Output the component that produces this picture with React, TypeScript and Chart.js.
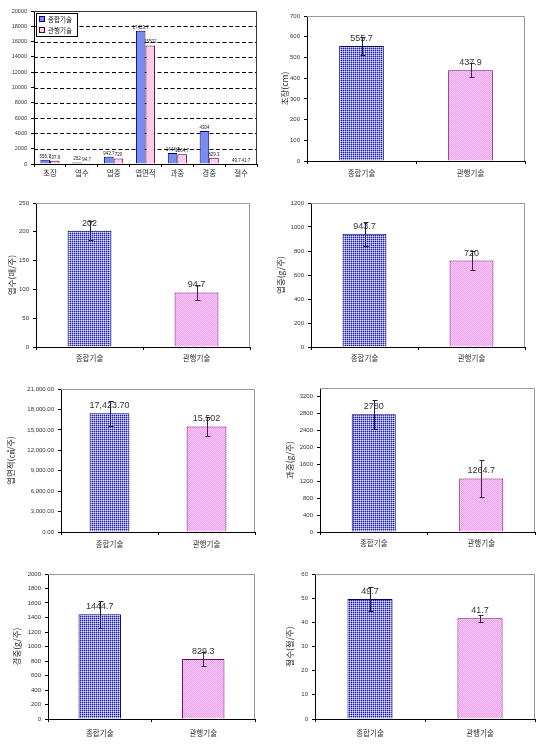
import React, { useEffect, useRef } from 'react';
import { Chart, registerables } from 'chart.js';

Chart.register(...registerables);

// ---------------- data ----------------
const seriesNames = ['종합기술', '관행기술'];
const techCategories = ['종합기술', '관행기술'];

const overviewCategories = ['초장', '엽수', '엽중', '엽면적', '과중', '경중', '절수'];
const overviewIntegrated = [555.7, 202, 943.7, 17423.7, 1444.7, 4304, 49.7];
const overviewConventional = [437.9, 94.7, 720, 15502, 1264.7, 829.3, 41.7];
const overviewAxis = [0, 20000, 2000];

const plantHeight = [555.7, 437.9];
const plantHeightErr = [42, 33];
const plantHeightAxis = [0, 700, 100];

const leafCount = [202, 94.7];
const leafCountErr = [17, 13];
const leafCountAxis = [0, 250, 50];

const leafWeight = [943.7, 720];
const leafWeightErr = [100, 80];
const leafWeightAxis = [0, 1200, 200];

const leafArea = [17423.7, 15502];
const leafAreaErr = [1800, 1400];
const leafAreaAxis = [0, 21000, 3000];

const fruitWeight = [2780, 1264.7];
const fruitWeightErr = [345, 430];
const fruitWeightAxis = [0, 3400, 400];

const stemWeight = [1444.7, 829.3];
const stemWeightErr = [185, 100];
const stemWeightAxis = [0, 2000, 200];

const nodeCount = [49.7, 41.7];
const nodeCountErr = [5, 1.5];
const nodeCountAxis = [0, 60, 10];

// ---------------- styling ----------------
const KR = '"Noto Sans CJK KR", "Noto Sans", sans-serif';
const NUM = '"Liberation Sans", "DejaVu Sans", sans-serif';

function makePattern(kind: 'blue' | 'pink'): CanvasPattern | string {
  const c = document.createElement('canvas');
  c.width = 4;
  c.height = 4;
  const g = c.getContext('2d');
  if (!g) return kind === 'blue' ? '#8686df' : '#ffbcff';
  if (kind === 'blue') {
    g.fillStyle = '#8c8cff';
    g.fillRect(0, 0, 4, 4);
    for (let y = 0; y < 4; y++)
      for (let x = 0; x < 4; x++) {
        if (x % 2 === 0 && y % 2 === 0) {
          g.fillStyle = '#202080';
          g.fillRect(x, y, 1, 1);
        } else if (x % 2 === 1 && y % 2 === 1) {
          g.fillStyle = '#e4e4ff';
          g.fillRect(x, y, 1, 1);
        }
      }
  } else {
    g.fillStyle = '#ffdcff';
    g.fillRect(0, 0, 4, 4);
    g.fillStyle = '#f490f4';
    for (let y = 0; y < 4; y++)
      for (let x = 0; x < 4; x++) if ((x + y) % 2 === 0) g.fillRect(x, y, 1, 1);
  }
  return g.createPattern(c, 'repeat') || '#aaa';
}

type DecoOpts = {
  frameColor: string;
  dashedGrid: boolean;
  legendBox: number[] | null;
  labelColor: string;
  labelSize: number;
  labelGap: number;
  format: (v: number) => string;
};

function makeDeco(o: DecoOpts) {
  return {
    id: 'deco',
    beforeDatasetsDraw(chart: any) {
      const { ctx, chartArea: a } = chart;
      const ys = chart.scales.y;
      if (o.dashedGrid) {
        ctx.save();
        ctx.strokeStyle = '#000';
        ctx.lineWidth = 1;
        ctx.setLineDash([4, 2.5]);
        ys.ticks.forEach((t: any) => {
          if (t.value <= ys.min || t.value >= ys.max) return;
          const py = Math.round(ys.getPixelForValue(t.value)) + 0.5;
          ctx.beginPath();
          ctx.moveTo(a.left, py);
          ctx.lineTo(a.right, py);
          ctx.stroke();
        });
        ctx.restore();
      }
      ctx.save();
      ctx.strokeStyle = o.frameColor;
      ctx.lineWidth = 1;
      ctx.beginPath();
      const t = Math.round(a.top) + 0.5;
      const r = Math.round(a.right) - 0.5;
      ctx.moveTo(a.left, t);
      ctx.lineTo(r, t);
      ctx.lineTo(r, a.bottom);
      ctx.stroke();
      ctx.restore();
    },
    afterDatasetsDraw(chart: any) {
      const { ctx } = chart;
      const ys = chart.scales.y;
      chart.data.datasets.forEach((ds: any, di: number) => {
        const meta = chart.getDatasetMeta(di);
        meta.data.forEach((el: any, i: number) => {
          const v = ds.data[i];
          ctx.save();
          ctx.fillStyle = o.labelColor;
          ctx.font = `${o.labelSize}px ${NUM}`;
          ctx.textAlign = 'center';
          ctx.textBaseline = 'alphabetic';
          ctx.fillText(o.format(v), el.x, el.y - o.labelGap);
          ctx.restore();
          if (ds.errors) {
            const e = ds.errors[i];
            const x = Math.round(el.x) + 0.5;
            const y1 = Math.round(ys.getPixelForValue(v + e)) + 0.5;
            const y2 = Math.round(ys.getPixelForValue(v - e)) + 0.5;
            ctx.save();
            ctx.strokeStyle = ds.errorColors[i];
            ctx.lineWidth = 1;
            ctx.beginPath();
            ctx.moveTo(x, y1);
            ctx.lineTo(x, y2);
            ctx.moveTo(x - 2, y1);
            ctx.lineTo(x + 3, y1);
            ctx.moveTo(x - 2, y2);
            ctx.lineTo(x + 3, y2);
            ctx.stroke();
            ctx.restore();
          }
        });
      });
    },
    afterDraw(chart: any) {
      if (!o.legendBox) return;
      const { ctx } = chart;
      const [lx, ly, lw, lh] = o.legendBox;
      ctx.save();
      ctx.fillStyle = '#fff';
      ctx.fillRect(lx, ly, lw, lh);
      ctx.strokeStyle = '#000';
      ctx.lineWidth = 1;
      ctx.strokeRect(lx + 0.5, ly + 0.5, lw, lh);
      chart.data.datasets.forEach((ds: any, di: number) => {
        const rowY = ly + 6 + di * 11;
        ctx.fillStyle = ds.backgroundColor;
        ctx.fillRect(lx + 3, rowY - 3, 6, 6);
        ctx.strokeStyle = ds.borderColor;
        ctx.strokeRect(lx + 3.5, rowY - 2.5, 5, 5);
        ctx.fillStyle = '#222';
        ctx.font = `6.5px ${KR}`;
        ctx.textBaseline = 'middle';
        ctx.textAlign = 'left';
        ctx.fillText(ds.label, lx + 12, rowY + 0.5);
      });
      ctx.restore();
    },
  };
}

type PanelCfg = {
  ox: number;
  oy: number;
  w: number;
  h: number;
  L: number;
  T: number;
  R: number;
  B: number;
  labelY: number;
  titleX?: number;
  title?: string;
  axis: number[];
  tickFmt?: (v: number) => string;
  tickSize: number;
  xFont: number;
  overview?: boolean;
  values?: number[];
  errors?: number[];
  labelFmt?: (v: number) => string;
};

function buildConfig(p: PanelCfg): any {
  const padTop = p.T - p.oy;
  const padRight = p.ox + p.w - p.R;
  const yW = p.L - p.ox;
  const xH = p.oy + p.h - p.B;
  const tickLen = 3;
  const xLine = p.xFont * 1.2;
  const xPad = Math.max(0, p.labelY - p.B - tickLen - xLine / 2);
  const [min, max, step] = p.axis;
  const titleFont = 8.5;
  const tickFmt = p.tickFmt || ((v: number) => String(v));

  let data: any;
  if (p.overview) {
    data = {
      labels: overviewCategories,
      datasets: [
        {
          label: seriesNames[0],
          data: overviewIntegrated,
          backgroundColor: '#7a8cf0',
          borderColor: '#000080',
          borderWidth: 1,
          categoryPercentage: 0.6,
          barPercentage: 1,
        },
        {
          label: seriesNames[1],
          data: overviewConventional,
          backgroundColor: '#ffcce6',
          borderColor: '#500040',
          borderWidth: 1,
          categoryPercentage: 0.6,
          barPercentage: 1,
        },
      ],
    };
  } else {
    data = {
      labels: techCategories,
      datasets: [
        {
          label: 'value',
          data: p.values,
          errors: p.errors,
          errorColors: ['#1a1a50', '#501850'],
          backgroundColor: [makePattern('blue'), makePattern('pink')],
          borderColor: ['#000070', '#700070'],
          borderWidth: 1,
          categoryPercentage: 0.41,
          barPercentage: 1,
        },
      ],
    };
  }

  const deco = makeDeco({
    frameColor: p.overview ? '#333' : '#999',
    dashedGrid: !!p.overview,
    legendBox: p.overview ? [36, 13, 41, 23] : null,
    labelColor: p.overview ? '#222' : '#333',
    labelSize: p.overview ? 4.5 : 9,
    labelGap: p.overview ? 2 : 5,
    format: p.labelFmt || ((v: number) => String(v)),
  });

  return {
    type: 'bar',
    data,
    plugins: [deco],
    options: {
      responsive: false,
      maintainAspectRatio: false,
      animation: false,
      events: [],
      layout: { padding: { top: padTop, right: padRight, left: 0, bottom: 0 } },
      plugins: {
        legend: { display: false },
        tooltip: { enabled: false },
      },
      scales: {
        x: {
          type: 'category',
          grid: {
            display: true,
            drawOnChartArea: false,
            drawTicks: true,
            tickLength: tickLen,
            color: '#000',
            offset: true,
          },
          border: { display: true, color: '#000', width: 1 },
          ticks: {
            font: { family: KR, size: p.xFont },
            color: '#333',
            padding: xPad,
            maxRotation: 0,
            autoSkip: false,
          },
          afterFit: (s: any) => {
            s.height = xH;
          },
        },
        y: {
          type: 'linear',
          min,
          max,
          ticks: {
            stepSize: step,
            font: { family: NUM, size: p.tickSize },
            color: '#333',
            padding: 4,
            callback: (v: any) => tickFmt(Number(v)),
          },
          afterBuildTicks: (s: any) => {
            s.ticks = s.ticks.filter((t: any) => {
              const k = (t.value - min) / step;
              return Math.abs(k - Math.round(k)) < 1e-6;
            });
          },
          grid: {
            display: true,
            drawOnChartArea: false,
            drawTicks: true,
            tickLength: tickLen,
            color: '#000',
          },
          border: { display: true, color: '#000', width: 1 },
          title: p.title
            ? {
                display: true,
                text: p.title,
                color: '#333',
                font: { family: KR, size: titleFont },
                padding: { top: Math.max(0, (p.titleX || 0) - p.ox - (titleFont * 1.2) / 2), bottom: 0 },
              }
            : { display: false },
          afterFit: (s: any) => {
            s.width = yW;
          },
        },
      },
    },
  };
}

const fmtComma2 = (v: number) => v.toLocaleString('en-US', { minimumFractionDigits: 2, maximumFractionDigits: 2 });
const fmtAreaLabel = (v: number) =>
  v % 1 === 0
    ? v.toLocaleString('en-US')
    : v.toLocaleString('en-US', { minimumFractionDigits: 2, maximumFractionDigits: 2 });

const panels: PanelCfg[] = [
  {
    ox: 0, oy: 0, w: 275, h: 185, L: 34, T: 11, R: 257, B: 164, labelY: 173,
    axis: overviewAxis, tickSize: 5.5, xFont: 7.5, overview: true,
  },
  {
    ox: 275, oy: 0, w: 275, h: 185, L: 307, T: 16, R: 525, B: 161, labelY: 173,
    titleX: 285, title: '초장(cm)', axis: plantHeightAxis, tickSize: 6, xFont: 7.5,
    values: plantHeight, errors: plantHeightErr,
  },
  {
    ox: 0, oy: 185, w: 275, h: 190, L: 36, T: 203, R: 250, B: 347, labelY: 358,
    titleX: 12, title: '엽수(매/주)', axis: leafCountAxis, tickSize: 6, xFont: 7.5,
    values: leafCount, errors: leafCountErr,
  },
  {
    ox: 275, oy: 185, w: 275, h: 190, L: 311, T: 203, R: 525, B: 347, labelY: 358,
    titleX: 281, title: '엽중(g/주)', axis: leafWeightAxis, tickSize: 6, xFont: 7.5,
    values: leafWeight, errors: leafWeightErr,
  },
  {
    ox: 0, oy: 375, w: 275, h: 185, L: 61, T: 389, R: 255, B: 532, labelY: 544,
    titleX: 11, title: '엽면적(㎠/주)', axis: leafAreaAxis, tickSize: 6, xFont: 7.5,
    tickFmt: fmtComma2, labelFmt: fmtAreaLabel,
    values: leafArea, errors: leafAreaErr,
  },
  {
    ox: 275, oy: 375, w: 275, h: 185, L: 320, T: 388, R: 535, B: 532, labelY: 543,
    titleX: 290, title: '과중(g/주)', axis: fruitWeightAxis, tickSize: 6, xFont: 7.5,
    values: fruitWeight, errors: fruitWeightErr,
  },
  {
    ox: 0, oy: 560, w: 275, h: 184, L: 48, T: 574, R: 255, B: 719, labelY: 733,
    titleX: 17, title: '경중(g/주)', axis: stemWeightAxis, tickSize: 6, xFont: 7.5,
    values: stemWeight, errors: stemWeightErr,
  },
  {
    ox: 275, oy: 560, w: 275, h: 184, L: 315, T: 574, R: 535, B: 719, labelY: 733,
    titleX: 290, title: '절수(절/주)', axis: nodeCountAxis, tickSize: 6, xFont: 7.5,
    values: nodeCount, errors: nodeCountErr,
  },
];

function PanelChart({ cfg }: { cfg: PanelCfg }) {
  const ref = useRef<HTMLCanvasElement>(null);
  useEffect(() => {
    if (!ref.current) return;
    const chart = new Chart(ref.current, buildConfig(cfg));
    return () => chart.destroy();
  }, [cfg]);
  return (
    <canvas
      ref={ref}
      width={cfg.w}
      height={cfg.h}
      style={{ position: 'absolute', left: cfg.ox, top: cfg.oy, width: cfg.w, height: cfg.h, display: 'block' }}
    />
  );
}

export default function App() {
  return (
    <div style={{ position: 'absolute', left: 0, top: 0, width: 550, height: 744, background: '#fff', overflow: 'hidden' }}>
      {panels.map((p, i) => (
        <PanelChart key={i} cfg={p} />
      ))}
    </div>
  );
}
